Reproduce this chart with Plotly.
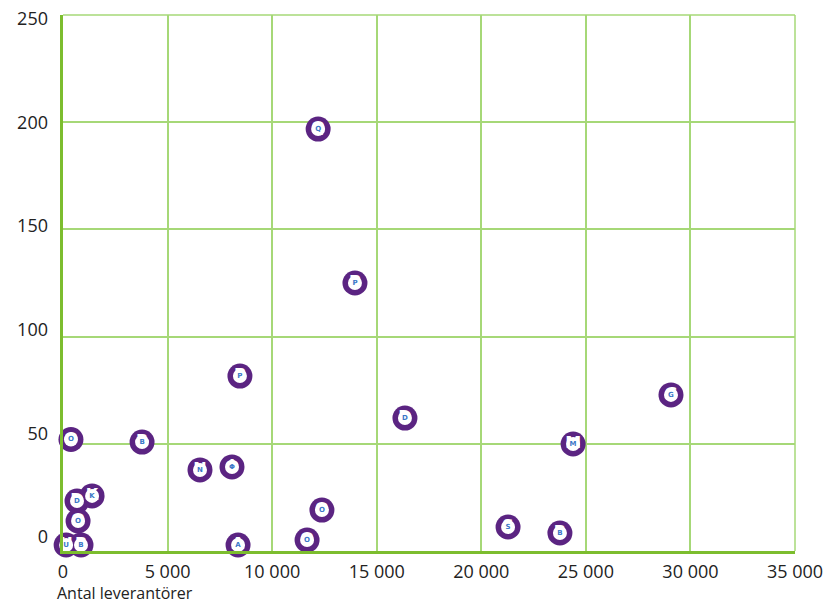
import plotly.graph_objects as go

# Data
labels = ["Q", "P", "P", "D", "G", "M", "O", "B", "N", "Φ",
          "D", "O", "K", "U", "B", "A", "O", "O", "S", "B"]
suppliers = [12200, 13960, 8460, 16350, 29070, 24390, 380, 3780, 6550, 8080,
             670, 720, 1390, 150, 860, 8370, 11670, 12380, 21280, 23760]
amount = [196.8, 125, 81.6, 62, 72.8, 49.9, 52, 50.8, 37.8, 39.2,
          23.3, 14, 25.7, 2.8, 2.8, 2.8, 5.1, 19.1, 11.2, 8.4]

x_ticks = [0, 5000, 10000, 15000, 20000, 25000, 30000, 35000]
x_ticktext = ["0", "5 000", "10 000", "15 000", "20 000", "25 000", "30 000", "35 000"]
y_ticks = [0, 50, 100, 150, 200, 250]

purple = "#5b2482"
grid_green = "#a6d877"
axis_green = "#7cbd2e"
text_col = "#222222"
font_family = "Open Sans, Noto Sans, sans-serif"

fig = go.Figure()
fig.add_trace(go.Scatter(
    x=suppliers, y=amount, mode="markers+text", text=labels,
    textposition="middle center",
    textfont=dict(color="white", size=16, family="DejaVu Sans", weight="bold"),
    marker=dict(size=25, color=purple, line=dict(width=0)),
    showlegend=False, hoverinfo="skip", cliponaxis=False,
))
fig.add_trace(go.Scatter(
    x=suppliers, y=amount, mode="markers+text", text=labels,
    textposition="middle center",
    textfont=dict(color="#3b78c8", size=7, family="DejaVu Sans", weight="bold"),
    marker=dict(size=14, color="white", line=dict(width=0)),
    showlegend=False, hoverinfo="skip", cliponaxis=False,
))

fig.update_layout(
    width=832, height=601,
    margin=dict(l=63, r=37, t=15, b=50),
    paper_bgcolor="white", plot_bgcolor="white",
    font=dict(family=font_family, color=text_col),
    xaxis=dict(
        range=[0, 35000], tickvals=x_ticks, ticktext=x_ticktext,
        showgrid=True, gridcolor=grid_green, gridwidth=1.5,
        zeroline=False, showline=True, linecolor=axis_green, linewidth=3,
        ticks="", tickfont=dict(size=18, color=text_col, family=font_family),
        ticklabelstandoff=2, automargin=False,
    ),
    yaxis=dict(
        range=[0, 250], tickvals=y_ticks, showticklabels=False,
        showgrid=True, gridcolor=grid_green, gridwidth=1.5,
        zeroline=False, showline=True, linecolor=axis_green, linewidth=3,
        ticks="", automargin=False,
    ),
    yaxis2=dict(
        overlaying="y", side="left", range=[-6.76, 251.9], tickvals=y_ticks,
        showgrid=False, zeroline=False, showline=False, ticks="",
        tickfont=dict(size=18, color=text_col, family=font_family),
        ticklabelstandoff=14, automargin=False,
    ),
    shapes=[
        dict(type="line", xref="paper", yref="paper", x0=0, x1=1, y0=1, y1=1,
             line=dict(color=grid_green, width=1.5), layer="below"),
        dict(type="line", xref="paper", yref="paper", x0=1, x1=1, y0=0, y1=1,
             line=dict(color=grid_green, width=1.5), layer="below"),
    ],
    annotations=[
        dict(text="Antal leverantörer", xref="paper", yref="paper",
             x=-0.011, y=-0.078, xanchor="left", yanchor="middle",
             showarrow=False, font=dict(size=16, color=text_col, family=font_family)),
        dict(text="Belopp (mnkr)", xref="paper", yref="paper",
             x=0.012, y=1.040, xanchor="left", yanchor="bottom",
             showarrow=False, font=dict(size=16, color=text_col, family=font_family)),
    ],
)
# invisible trace to activate the label axis
fig.add_trace(go.Scatter(x=[0], y=[0], yaxis="y2", mode="markers",
                         marker=dict(opacity=0), showlegend=False, hoverinfo="skip"))

fig.write_html("out.html", config={"displayModeBar": False},
               post_script="document.body.style.margin='0';document.body.style.padding='0';")
